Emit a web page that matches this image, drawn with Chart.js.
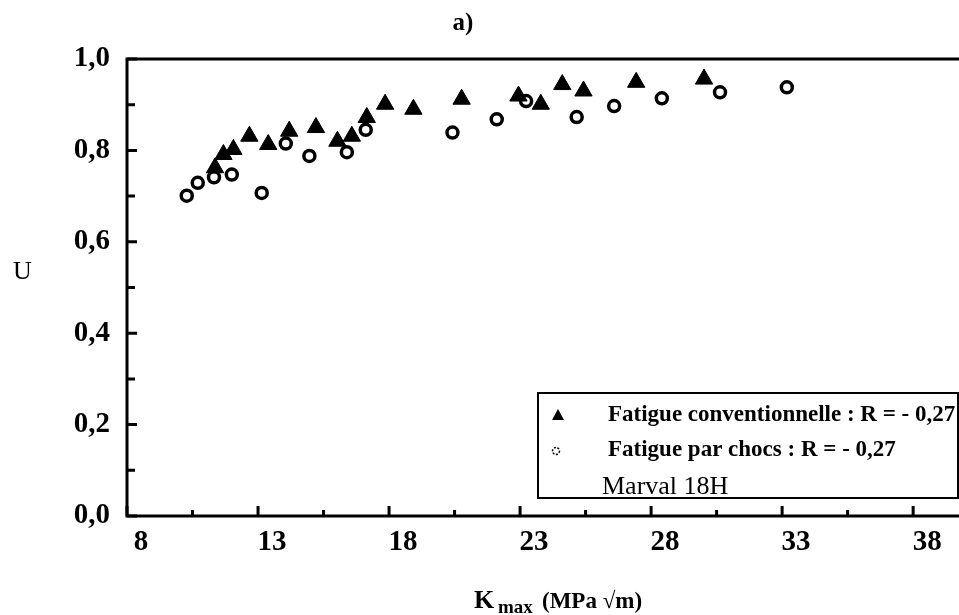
<!DOCTYPE html>
<html><head><meta charset="utf-8">
<script src="https://cdn.jsdelivr.net/npm/chart.js@4/dist/chart.umd.min.js"></script>
<style>html,body{margin:0;padding:0;background:#fff}#wrap{width:959px;height:615px;position:relative}</style>
</head><body><div id="wrap"><canvas id="c" width="959" height="615"></canvas></div>
<script>
// ---- data ----
const convX = [11.36,11.68,12.06,12.67,13.39,14.19,15.21,16.03,16.58,17.15,17.85,18.93,20.77,22.94,23.79,24.61,25.42,27.43,30.02];
const convU = [0.762,0.791,0.802,0.831,0.813,0.842,0.850,0.820,0.831,0.872,0.901,0.890,0.912,0.919,0.901,0.944,0.930,0.949,0.956];
const chocX = [10.28,10.70,11.32,12.00,13.14,14.06,14.96,16.39,17.11,20.42,22.11,23.23,25.16,26.59,28.41,30.63,33.18];
const chocU = [0.701,0.729,0.741,0.747,0.707,0.815,0.788,0.796,0.845,0.839,0.868,0.908,0.873,0.897,0.914,0.927,0.938];
const xMajorTicks = [8,13,18,23,28,33,38];
const xMinorTicks = [10.5,15.5,20.5,25.5,30.5,35.5];
const yMajorTicks = [0,0.2,0.4,0.6,0.8,1.0];
const yMinorTicks = [0.1,0.3,0.5,0.7,0.9];
const seriesNames = ['Fatigue conventionnelle : R = - 0,27','Fatigue par chocs : R = - 0,27'];
const noteText = 'Marval 18H';
const titleText = 'a)';
const yTitle = 'U';

const SERIF = "'Liberation Serif','Times New Roman',serif";

const deco = {
  id:'deco',
  afterDatasetsDraw(chart){
    const ctx = chart.ctx, a = chart.chartArea;
    const xs = chart.scales.x, ys = chart.scales.y;
    ctx.save();
    ctx.strokeStyle = '#000'; ctx.fillStyle = '#000';
    // frame
    ctx.lineWidth = 3;
    ctx.beginPath();
    ctx.moveTo(a.right, a.top); ctx.lineTo(a.left, a.top);
    ctx.lineTo(a.left, a.bottom); ctx.lineTo(a.right, a.bottom);
    ctx.stroke();
    // inward ticks
    ctx.lineWidth = 3;
    ctx.beginPath();
    xMajorTicks.forEach(v=>{const p=xs.getPixelForValue(v); ctx.moveTo(p,a.bottom); ctx.lineTo(p,a.bottom-10);});
    xMinorTicks.forEach(v=>{const p=xs.getPixelForValue(v); ctx.moveTo(p,a.bottom); ctx.lineTo(p,a.bottom-6);});
    yMajorTicks.forEach(v=>{const p=ys.getPixelForValue(v); ctx.moveTo(a.left,p); ctx.lineTo(a.left+10,p);});
    yMinorTicks.forEach(v=>{const p=ys.getPixelForValue(v); ctx.moveTo(a.left,p); ctx.lineTo(a.left+8,p);});
    ctx.stroke();
    // legend box
    const bx=538, by=393, bw=420, bh=105;
    ctx.fillStyle='#fff'; ctx.fillRect(bx,by,bw,bh);
    ctx.lineWidth=2; ctx.strokeStyle='#000'; ctx.strokeRect(bx,by,bw,bh);
    ctx.fillStyle='#000';
    // triangle marker
    ctx.beginPath();
    ctx.moveTo(558,409); ctx.lineTo(564,420); ctx.lineTo(552,420); ctx.closePath(); ctx.fill();
    // small dotted circle marker
    ctx.lineWidth=1.5; ctx.setLineDash([2,1.5]);
    ctx.beginPath(); ctx.arc(556,451,3.5,0,Math.PI*2); ctx.stroke();
    ctx.setLineDash([]);
    ctx.textBaseline='alphabetic'; ctx.textAlign='left';
    ctx.font = "bold 23px "+SERIF;
    ctx.fillText(seriesNames[0], 608, 421);
    ctx.fillText(seriesNames[1], 608, 456);
    ctx.font = "26px "+SERIF;
    ctx.fillText(noteText, 602, 494);
    // title
    ctx.font = "bold 25px "+SERIF; ctx.textAlign='center';
    ctx.fillText(titleText, 463, 30);
    // y title
    ctx.font = "26px "+SERIF; ctx.textAlign='left';
    ctx.fillText(yTitle, 13, 279);
    // x title with subscript
    ctx.font = "bold 26px "+SERIF;
    ctx.fillText('K', 474, 608);
    ctx.font = "bold 19px "+SERIF;
    ctx.fillText('max', 498, 613);
    ctx.font = "bold 23px "+SERIF;
    ctx.fillText('(MPa \u221Am)', 542, 608);
    ctx.restore();
  }
};

new Chart(document.getElementById('c'), {
  type:'scatter',
  data:{
    datasets:[
      {label:seriesNames[0], data:convX.map((x,i)=>({x, y:convU[i]})),
       pointStyle:'triangle', pointRadius:10, backgroundColor:'#000', borderColor:'#000', borderWidth:1},
      {label:seriesNames[1], data:chocX.map((x,i)=>({x, y:chocU[i]})),
       pointStyle:'circle', pointRadius:5.5, backgroundColor:'rgba(255,255,255,0)', borderColor:'#000', borderWidth:3.5}
    ]
  },
  options:{
    responsive:false, animation:false, devicePixelRatio:1,
    layout:{autoPadding:false, padding:{left:0,top:59,right:0,bottom:0}},
    plugins:{legend:{display:false}, tooltip:{enabled:false}, title:{display:false}},
    scales:{
      x:{type:'linear', min:8, max:39.75,
        afterBuildTicks:s=>{s.ticks = xMajorTicks.map(v=>({value:v}));},
        afterFit:s=>{s.height = 99; s.paddingLeft = 0; s.paddingRight = 0;},
        grid:{display:false, drawTicks:false}, border:{display:false},
        ticks:{padding:9, labelOffset:14, color:'#000', font:{family:SERIF, size:29, weight:'bold'},
          callback:v=>String(v)}},
      y:{type:'linear', min:0, max:1,
        afterBuildTicks:s=>{s.ticks = yMajorTicks.map(v=>({value:v}));},
        afterFit:s=>{s.width = 127; s.paddingTop = 0; s.paddingBottom = 0;},
        grid:{display:false, drawTicks:false}, border:{display:false},
        ticks:{padding:17, color:'#000', font:{family:SERIF, size:29, weight:'bold'},
          callback:v=>v.toFixed(1).replace('.',',')}}
    }
  },
  plugins:[deco]
});
</script>
</body></html>
